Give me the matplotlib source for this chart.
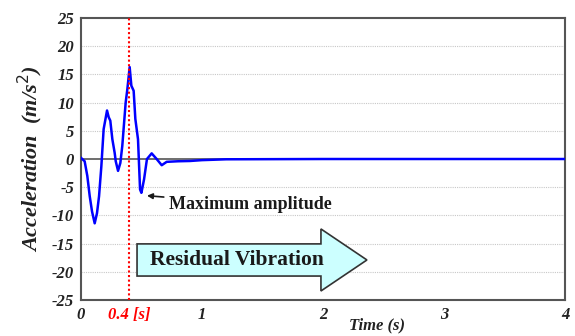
import numpy as np
import matplotlib.pyplot as plt
from matplotlib.patches import FancyArrow

# acceleration trace
t = [0.0, 0.03, 0.052, 0.072, 0.091, 0.113, 0.132, 0.149, 0.168, 0.187, 0.215,
     0.229, 0.242, 0.259, 0.278, 0.287, 0.306, 0.325, 0.341, 0.353, 0.369, 0.383,
     0.402, 0.416, 0.435, 0.449, 0.471, 0.488, 0.499, 0.521, 0.545, 0.584, 0.625,
     0.667, 0.708, 0.8, 0.9, 1.0, 1.2, 2.0, 3.0, 4.0]
acc = [0.2, -0.4, -3.0, -6.6, -9.3, -11.4, -9.6, -6.6, -1.3, 5.3, 8.6,
       7.4, 6.8, 3.5, 1.1, -0.4, -2.1, -0.7, 2.3, 5.6, 10.0, 12.4,
       16.3, 13.0, 12.1, 7.1, 3.5, -5.4, -6.0, -3.6, 0.0, 1.0, 0.0,
       -1.1, -0.5, -0.4, -0.35, -0.2, -0.05, 0.0, 0.0, 0.0]

yticks = list(range(-25, 30, 5))
xticks = [0, 0.4, 1, 2, 3, 4]
xlabels = ['0', '0.4 [s]', '1', '2', '3', '4']
t_mark = 0.4

serif = ['Liberation Serif', 'DejaVu Serif']
lab = dict(fontfamily=serif, fontweight='bold', fontstyle='italic', color='#222222')

fig = plt.figure(figsize=(5.75, 3.36), dpi=100)
ax = fig.add_axes([0.1409, 0.1071, 0.8417, 0.8393])

for v in yticks:
    if v not in (0, -25, 25):
        ax.axhline(v, color='#c8c8c8', lw=0.8, ls=(0, (1, 1)), zorder=0)
ax.axhline(0, color='#555555', lw=1.2, zorder=1)

ax.plot(t, acc, color='#0000ff', lw=1.8, zorder=3, solid_joinstyle='round')
ax.axvline(t_mark, color='red', lw=1.5, ls=(0, (1, 1.2)), zorder=4)

ax.set_xlim(0, 4)
ax.set_ylim(-25, 25)
ax.set_yticks(yticks)
ax.set_yticklabels([str(v) for v in yticks], fontsize=12, **lab)
ax.set_xticks(xticks)
ax.set_xticklabels(xlabels, fontsize=12, **lab)
ax.get_xticklabels()[1].set_color('red')
ax.tick_params(length=0, pad=5)
for s in ax.spines.values():
    s.set_color('#555555')
    s.set_linewidth(1.5)

ax.set_ylabel('Acceleration  (m/s$^2$)', fontsize=16, labelpad=5, **lab)
fig.text(377 / 575, 11 / 336, 'Time (s)', ha='center', va='center',
         fontsize=12, **lab)

# residual vibration arrow
arr = FancyArrow(0.463, -17.9, 1.9, 0, width=5.7, head_width=11.0,
                 head_length=0.38, length_includes_head=True,
                 facecolor='#ccffff', edgecolor='#333333', lw=1.2, zorder=5)
ax.add_patch(arr)
ax.text(0.57, -17.9, 'Residual Vibration', ha='left', va='center',
        fontfamily=serif, fontweight='bold', fontsize=15.5, color='#1a1a1a', zorder=6)

ax.annotate('Maximum amplitude', xy=(0.545, -6.5), xytext=(0.73, -8.0),
            ha='left', va='center', fontfamily=serif, fontweight='bold',
            fontsize=13, color='#1a1a1a',
            arrowprops=dict(arrowstyle='-|>', color='#1a1a1a', lw=1.2,
                            mutation_scale=8, shrinkA=2, shrinkB=0))

fig.savefig('out.png', dpi=100)
